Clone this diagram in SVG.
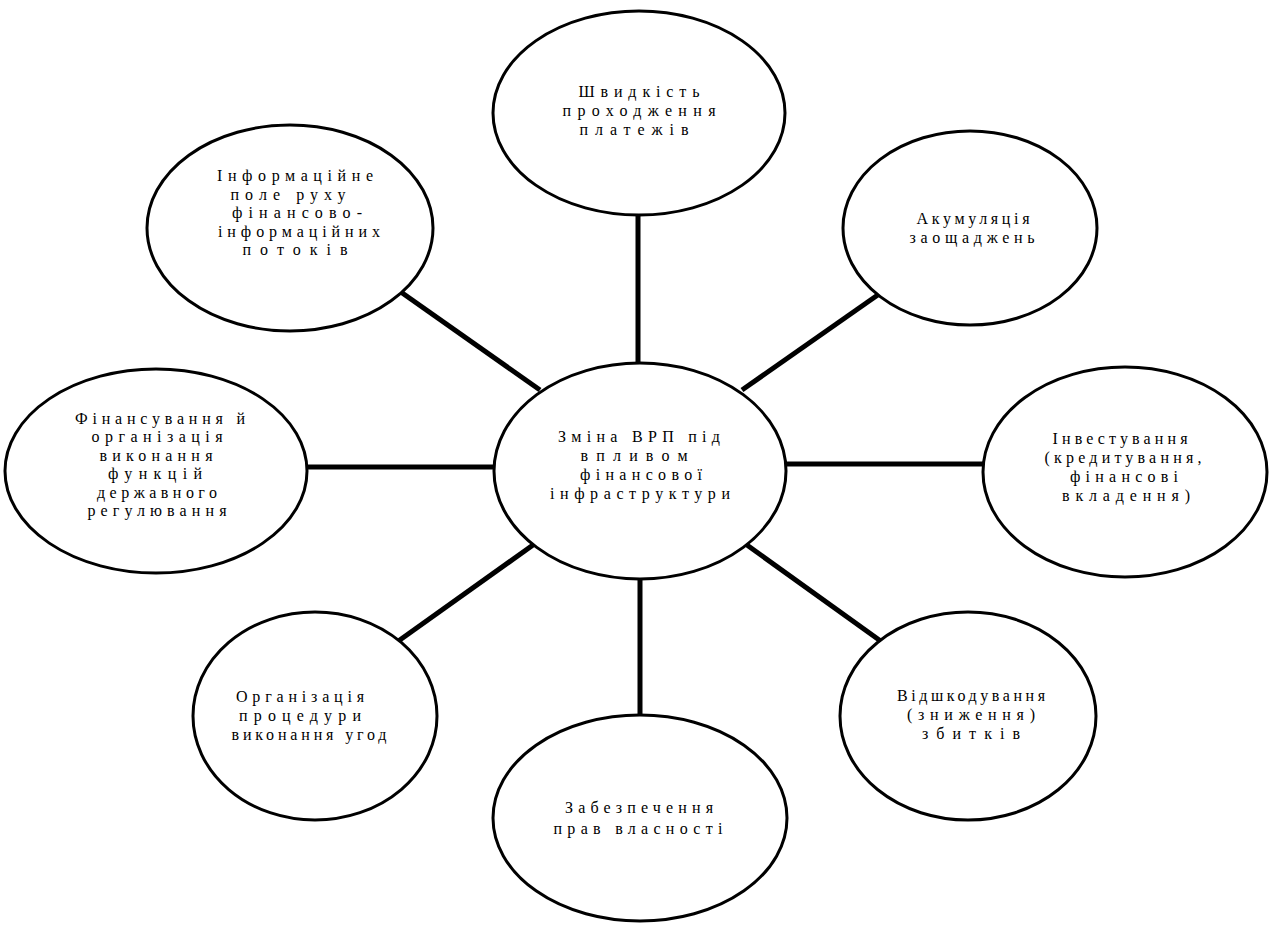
<svg xmlns="http://www.w3.org/2000/svg" width="1269" height="925" viewBox="0 0 1269 925">
<style>
.n ellipse{fill:#fff;stroke:#000;stroke-width:3}
.c line{stroke:#000;stroke-width:5}
text{font-family:"Liberation Serif","Times New Roman",serif;font-size:16px;fill:#000;text-anchor:middle}
</style>
<rect width="1269" height="925" fill="#fff"/>
<g class="c" id="connectors">
<line x1="638" y1="215" x2="638" y2="363"/>
<line x1="640" y1="579" x2="640" y2="715"/>
<line x1="307" y1="467" x2="497" y2="467"/>
<line x1="785" y1="464" x2="983" y2="464"/>
<line x1="398" y1="290" x2="540" y2="390"/>
<line x1="882" y1="292" x2="742" y2="390"/>
<line x1="397" y1="642" x2="540" y2="540"/>
<line x1="882" y1="642" x2="740" y2="540"/>
</g>
<g class="n" id="n-top">
<ellipse cx="639" cy="113" rx="146" ry="102"/>
<text x="639" y="97" textLength="121" lengthAdjust="spacing">Швидкість</text>
<text x="639" y="116" textLength="153" lengthAdjust="spacing">проходження</text>
<text x="634" y="135" textLength="109" lengthAdjust="spacing">платежів</text>
</g>
<g class="n" id="n-topright">
<ellipse cx="970" cy="228" rx="127" ry="97"/>
<text x="973" y="224" textLength="113" lengthAdjust="spacing">Акумуляція</text>
<text x="972" y="243" textLength="125" lengthAdjust="spacing">заощаджень</text>
</g>
<g class="n" id="n-right">
<ellipse cx="1125" cy="472" rx="142" ry="105"/>
<text x="1120" y="444" textLength="135" lengthAdjust="spacing">Інвестування</text>
<text x="1123" y="463" textLength="157" lengthAdjust="spacing">(кредитування,</text>
<text x="1124" y="482" textLength="108" lengthAdjust="spacing">фінансові</text>
<text x="1126" y="501" textLength="128" lengthAdjust="spacing">вкладення)</text>
</g>
<g class="n" id="n-bottomright">
<ellipse cx="968" cy="716" rx="128" ry="104"/>
<text x="971" y="701" textLength="148" lengthAdjust="spacing">Відшкодування</text>
<text x="971" y="720" textLength="128" lengthAdjust="spacing">(зниження)</text>
<text x="971" y="739" textLength="98" lengthAdjust="spacing">збитків</text>
</g>
<g class="n" id="n-bottom">
<ellipse cx="640" cy="818" rx="147" ry="103"/>
<text x="639" y="813" textLength="148" lengthAdjust="spacing">Забезпечення</text>
<text x="638" y="834" textLength="169" lengthAdjust="spacing">прав власності</text>
</g>
<g class="n" id="n-bottomleft">
<ellipse cx="315" cy="716" rx="122" ry="104"/>
<text x="300" y="702" textLength="128" lengthAdjust="spacing">Організація</text>
<text x="300" y="721" textLength="122" lengthAdjust="spacing">процедури</text>
<text x="309" y="740" textLength="155" lengthAdjust="spacing">виконання угод</text>
</g>
<g class="n" id="n-left">
<ellipse cx="156" cy="471" rx="151" ry="102"/>
<text x="160" y="424" textLength="170" lengthAdjust="spacing">Фінансування й</text>
<text x="157" y="442" textLength="131" lengthAdjust="spacing">організація</text>
<text x="156" y="461" textLength="113" lengthAdjust="spacing">виконання</text>
<text x="155" y="479" textLength="94" lengthAdjust="spacing">функцій</text>
<text x="157" y="498" textLength="120" lengthAdjust="spacing">державного</text>
<text x="157" y="516" textLength="139" lengthAdjust="spacing">регулювання</text>
</g>
<g class="n" id="n-topleft">
<ellipse cx="290" cy="228" rx="143" ry="103"/>
<text x="295" y="181" textLength="156" lengthAdjust="spacing">Інформаційне</text>
<text x="288" y="200" textLength="115" lengthAdjust="spacing">поле руху</text>
<text x="297" y="218" textLength="130" lengthAdjust="spacing">фінансово-</text>
<text x="299" y="237" textLength="162" lengthAdjust="spacing">інформаційних</text>
<text x="295" y="255" textLength="105" lengthAdjust="spacing">потоків</text>
</g>
<g class="n" id="n-center">
<ellipse cx="640" cy="471" rx="146" ry="108"/>
<text x="639" y="442" textLength="162" lengthAdjust="spacing">Зміна ВРП під</text>
<text x="634" y="461" textLength="107" lengthAdjust="spacing">впливом</text>
<text x="641" y="480" textLength="122" lengthAdjust="spacing">фінансової</text>
<text x="640" y="499" textLength="180" lengthAdjust="spacing">інфраструктури</text>
</g>
</svg>
